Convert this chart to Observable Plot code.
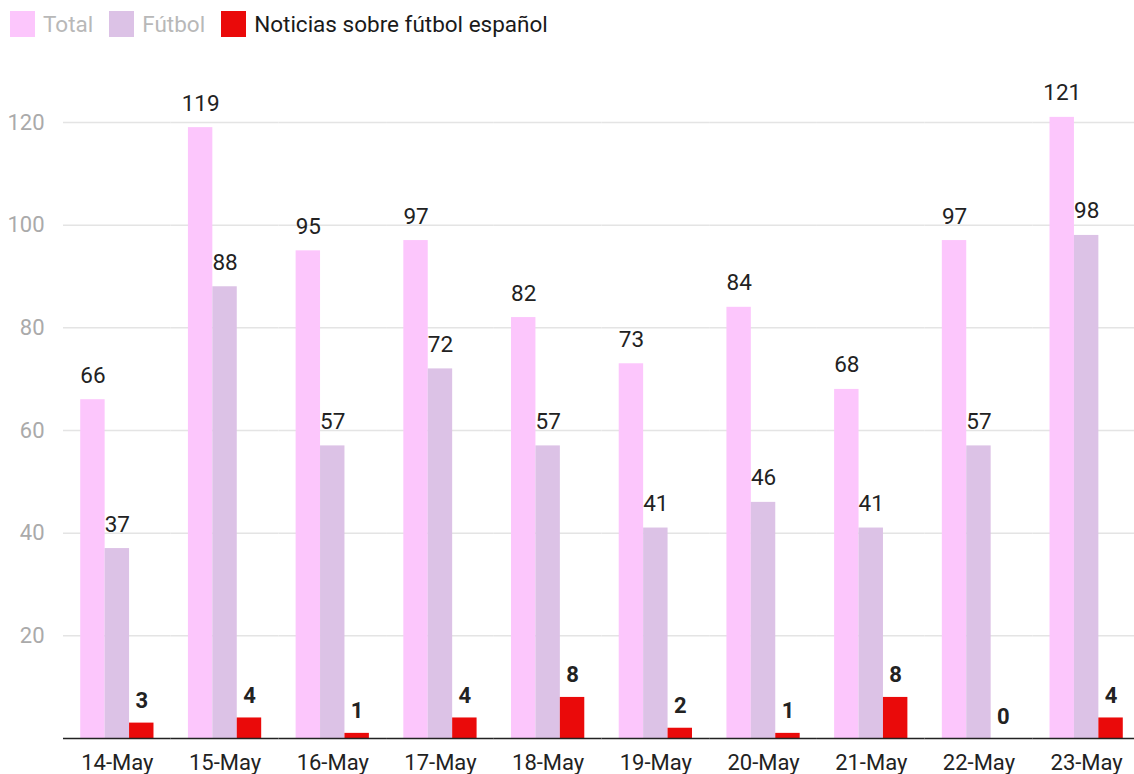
<!DOCTYPE html>
<html>
<head>
<meta charset="utf-8">
<script src="https://cdn.jsdelivr.net/npm/d3@7"></script>
<script src="https://cdn.jsdelivr.net/npm/@observablehq/plot@0.6"></script>
<style>
  html, body { margin: 0; padding: 0; background: #fff; font-family: Roboto, "Noto Sans", sans-serif; overflow: hidden; }
  #legend { height: 50px; display: flex; align-items: center; padding-left: 10px; box-sizing: border-box; padding-bottom: 3px; }
  .item { display: flex; align-items: center; margin-right: 16px; font-size: 22.5px; }
  .sw { width: 25px; height: 26px; margin-right: 8px; }
  #chart svg { display: block; overflow: visible; font-family: Roboto, "Noto Sans", sans-serif; }
</style>
</head>
<body>
<div id="legend"></div>
<div id="chart"></div>
<script>
const dates = ["14-May","15-May","16-May","17-May","18-May","19-May","20-May","21-May","22-May","23-May"];
const total = [66, 119, 95, 97, 82, 73, 84, 68, 97, 121];
const futbol = [37, 88, 57, 72, 57, 41, 46, 41, 57, 98];
const noticias = [3, 4, 1, 4, 8, 2, 1, 8, 0, 4];
const series = ["Total", "Fútbol", "Noticias sobre fútbol español"];
const colors = ["#fcc6fc", "#dcc2e6", "#ea0a0a"];
const legendText = ["#b8b8b8", "#b8b8b8", "#1a1a1a"];
const yTicks = [20, 40, 60, 80, 100, 120];

const legend = document.getElementById("legend");
series.forEach((s, i) => {
  const it = document.createElement("div");
  it.className = "item";
  const sw = document.createElement("div");
  sw.className = "sw";
  sw.style.background = colors[i];
  const t = document.createElement("span");
  t.textContent = s;
  t.style.color = legendText[i];
  it.appendChild(sw); it.appendChild(t);
  legend.appendChild(it);
});

const values = [total, futbol, noticias];
const data = dates.flatMap((d, i) => series.map((s, j) => ({date: d, s, v: values[j][i]})));
const main = data.filter(d => d.s !== series[2]);
const red = data.filter(d => d.s === series[2]);

const chart = Plot.plot({
  width: 1134,
  height: 724,
  marginLeft: 63,
  marginRight: -6,
  marginTop: 0,
  marginBottom: 36,
  style: {fontFamily: "Roboto, 'Noto Sans', sans-serif", background: "transparent"},
  fx: {domain: dates, paddingInner: 0, paddingOuter: 0, round: false, label: null},
  x: {domain: series, paddingInner: 0, paddingOuter: 0.705, round: false, axis: null},
  y: {domain: [0, 120], range: [688, 72], label: null},
  color: {domain: series, range: colors},
  marks: [
    Plot.gridY(yTicks, {stroke: "#e4e4e4", strokeOpacity: 1, strokeWidth: 1.5}),
    Plot.barY(data, {fx: "date", x: "s", y: "v", fill: "s", inset: 0}),
    Plot.ruleY([0], {stroke: "#222", strokeWidth: 1.5}),
    Plot.text(main, {fx: "date", x: "s", y: "v", text: d => String(d.v), lineAnchor: "bottom", dy: -17, fontSize: 22.5, fill: "#222"}),
    Plot.text(red, {fx: "date", x: "s", y: "v", text: d => String(d.v), lineAnchor: "bottom", dy: -15, fontSize: 22, fontWeight: "bold", fill: "#222"}),
    Plot.axisY(yTicks, {tickSize: 0, tickPadding: 19, fontSize: 22, color: "#aaa", label: null}),
    Plot.axisFx({anchor: "bottom", tickSize: 0, tickPadding: 16, fontSize: 22, color: "#222", label: null})
  ]
});
document.getElementById("chart").appendChild(chart);
</script>
</body>
</html>
